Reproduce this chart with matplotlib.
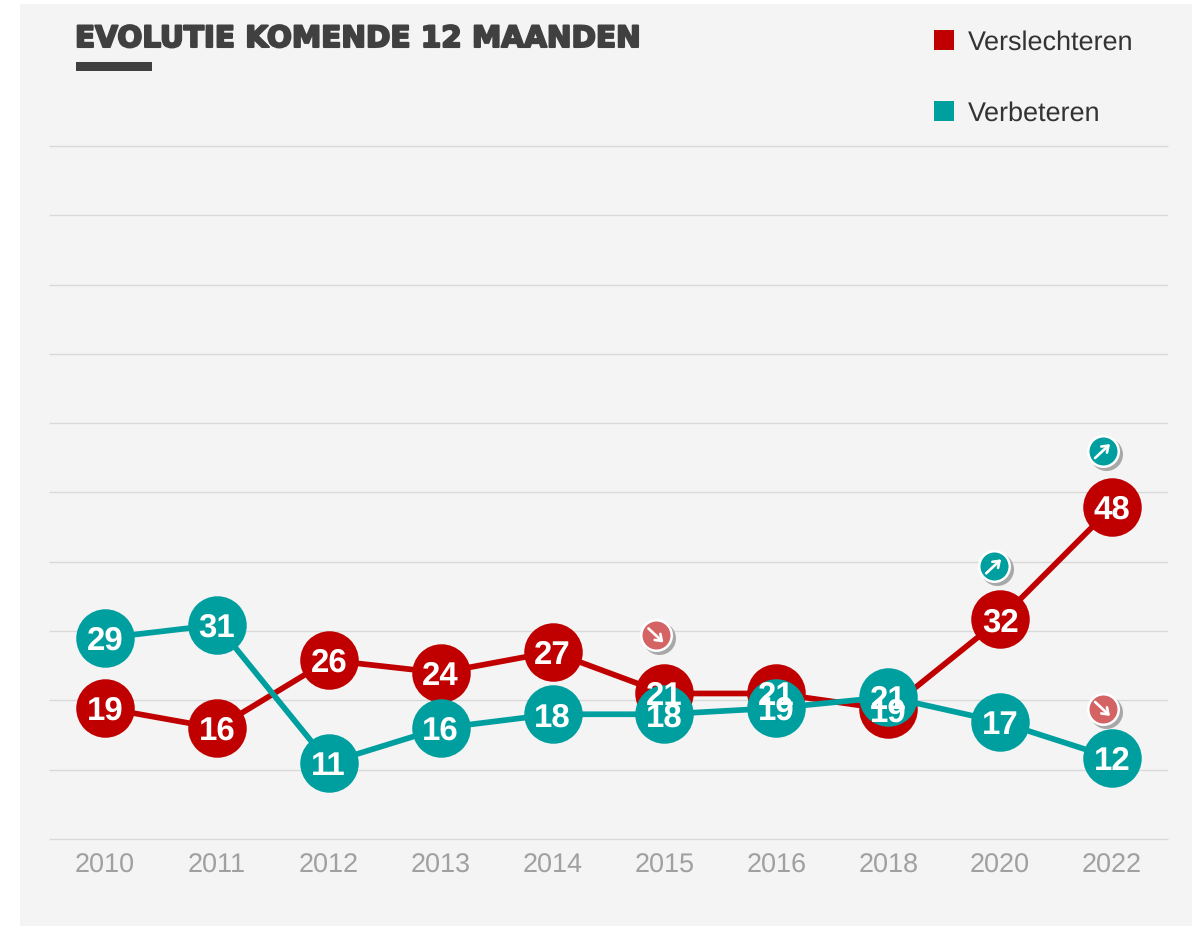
import matplotlib
matplotlib.use("Agg")
import matplotlib.pyplot as plt
from matplotlib.lines import Line2D
from matplotlib.patches import Rectangle
from matplotlib.transforms import ScaledTranslation
import matplotlib.patheffects as pe

years = ["2010", "2011", "2012", "2013", "2014", "2015", "2016", "2018", "2020", "2022"]
worse_values = [18.9, 16.0, 25.8, 24.0, 27.0, 21.0, 21.0, 18.7, 31.7, 47.9]
worse_labels = [19, 16, 26, 24, 27, 21, 21, 19, 32, 48]
better_values = [29.0, 30.9, 11.0, 16.0, 18.0, 18.0, 18.9, 20.5, 16.9, 11.7]
better_labels = [29, 31, 11, 16, 18, 18, 19, 21, 17, 12]
y_ticks = [0, 10, 20, 30, 40, 50, 60, 70, 80, 90, 100]

RED = "#c00000"
TEAL = "#009f9f"
W, H = 1199, 926
plt.rcParams["font.family"] = ["Liberation Sans", "DejaVu Sans"]
plt.rcParams["text.hinting"] = "no_hinting"
plt.rcParams["text.hinting_factor"] = 1

fig = plt.figure(figsize=(W / 100, H / 100), dpi=100, facecolor="white")
fig.patches.append(Rectangle((20 / W, 0), 1172 / W, 922 / H, transform=fig.transFigure,
                             facecolor="#f4f4f4", edgecolor="none", zorder=-5))
ax = fig.add_axes([49 / W, 1 - 839 / H, 1119 / W, 693 / H])
ax.patch.set_alpha(0)
x = list(range(len(years)))
ax.set_xlim(-0.5, 9.5)
ax.set_ylim(0, 100)
ax.set_yticks(y_ticks)
ax.set_xticks(x, years)
ax.tick_params(axis="y", length=0, labelleft=False)
ax.tick_params(axis="x", length=0, labelsize=19.1, labelcolor="#a0a0a0", pad=10)
ax.grid(axis="y", color="#d9d9d9", lw=0.95, solid_capstyle="butt")
ax.set_axisbelow(True)
for s in ax.spines.values():
    s.set_visible(False)
ax.get_ygridlines()[0].set_clip_on(False)
ax.get_ygridlines()[-1].set_clip_on(False)

MS = (58.5 * 0.72) ** 2
ax.plot(x, worse_values, color=RED, lw=4.1, zorder=3, solid_joinstyle="round")
ax.scatter(x, worse_values, s=MS, color=RED, linewidths=0, zorder=4)
ax.plot(x, better_values, color=TEAL, lw=4.1, zorder=5, solid_joinstyle="round")
ax.scatter(x, better_values, s=MS, color=TEAL, linewidths=0, zorder=6)
for vals, labs in ((worse_values, worse_labels), (better_values, better_labels)):
    for i, (v, l) in enumerate(zip(vals, labs)):
        ax.text(i, v, str(l), color="white", fontsize=23.5, fontweight="bold",
                ha="center", va="center_baseline", zorder=8)

# trend badges: (year index, value, colour, arrow direction, dx px, dy px)
badges = [
    (5, worse_values[5], "#d46464", -1, -8, 58),
    (8, worse_values[8], "#009f9f", 1, -6, 53),
    (9, worse_values[9], "#009f9f", 1, -9, 56),
    (9, better_values[9], "#d46464", -1, -9, 49),
]
for i, v, col, d, dx, dy in badges:
    base = ax.transData + ScaledTranslation(dx / 100, dy / 100, fig.dpi_scale_trans)
    shadow = ax.transData + ScaledTranslation((dx + 3) / 100, (dy - 3) / 100, fig.dpi_scale_trans)
    ax.scatter([i], [v], s=(33 * 0.72) ** 2, color="#a8a8a8", linewidths=0, zorder=9, transform=shadow)
    ax.scatter([i], [v], s=(33 * 0.72) ** 2, color="white", linewidths=0, zorder=10, transform=base)
    ax.scatter([i], [v], s=(28 * 0.72) ** 2, color=col, linewidths=0, zorder=11, transform=base)
    tip = ax.transData + ScaledTranslation((dx + 7) / 100, (dy + 7 * d) / 100, fig.dpi_scale_trans)
    ax.annotate("", xy=(i, v), xycoords=tip, xytext=(-15, -14 * d), textcoords="offset pixels",
                arrowprops=dict(arrowstyle="->,head_length=0.42,head_width=0.3", color="white",
                                lw=1.9, shrinkA=0, shrinkB=0), zorder=12)

fig.text(75 / W, 1 - 47 / H, "EVOLUTIE KOMENDE 12 MAANDEN", color="#404040", fontsize=21.2,
         family="DejaVu Sans", fontweight="bold", ha="left", va="baseline",
         path_effects=[pe.withStroke(linewidth=1.5, foreground="#404040")])
fig.patches.append(Rectangle((76 / W, 1 - 71 / H), 76 / W, 9 / H, transform=fig.transFigure,
                             facecolor="#404040", edgecolor="none"))

handles = [
    Line2D([], [], marker="s", ls="none", color=RED, markersize=13.7, markeredgewidth=0),
    Line2D([], [], marker="s", ls="none", color=TEAL, markersize=13.7, markeredgewidth=0),
]
fig.legend(handles, ["Verslechteren", "Verbeteren"], loc="upper left",
           bbox_to_anchor=(909 / W, 1 - 22 / H), frameon=False, fontsize=19.4, labelcolor="#333333",
           labelspacing=1.70, handletextpad=-0.12, borderpad=0.3, borderaxespad=0)

fig.savefig("out.png", dpi=100)
